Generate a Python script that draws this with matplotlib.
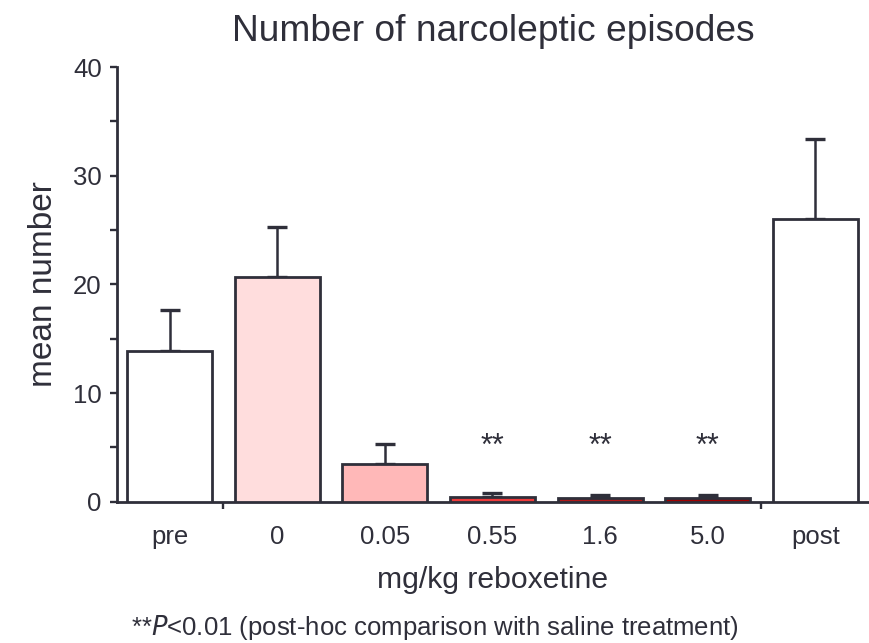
import matplotlib
matplotlib.use("Agg")
import matplotlib.pyplot as plt
import numpy as np

categories = ["pre", "0", "0.05", "0.55", "1.6", "5.0", "post"]
means = [13.9, 20.7, 3.5, 0.45, 0.35, 0.35, 26.0]
errors = [3.7, 4.6, 1.8, 0.35, 0.25, 0.25, 7.4]
colors = ["#ffffff", "#ffdddd", "#ffb8b8", "#ee3b3b", "#b01818", "#a00000", "#ffffff"]
signif = ["", "", "", "**", "**", "**", ""]

plt.rcParams['font.family'] = ['Liberation Sans', 'DejaVu Sans']
dark = "#2f2f3a"

fig = plt.figure(figsize=(8.69, 6.43), dpi=100)
ax = fig.add_axes([0.1346, 0.2198, 0.8654, 0.676])

x = np.arange(len(categories))
ax.bar(x, means, width=0.79, color=colors, edgecolor=dark, linewidth=2.0, zorder=3)
ax.errorbar(x, means, yerr=[np.zeros(len(errors)), errors], fmt='none',
            ecolor=dark, elinewidth=1.8, capsize=7, capthick=2.4, zorder=2)

for xi, s in zip(x, signif):
    if s:
        ax.text(xi, 4.3, s, ha='center', va='baseline', fontsize=22, color=dark)

ax.set_xlim(-0.49, 6.5)
ax.set_ylim(0, 40)
ax.set_yticks([0, 10, 20, 30, 40])
ax.set_yticks([5, 15, 25, 35], minor=True)
ax.set_xticks(x)
ax.set_xticklabels(categories)
ax.set_xticks([0.5, 5.5], minor=True)
ax.tick_params(axis='x', which='major', length=0, pad=17, labelsize=18.5, colors=dark)
ax.tick_params(axis='x', which='minor', length=5, width=1.7, color=dark, direction='out')
ax.tick_params(axis='y', which='both', length=5, width=1.7, color=dark, pad=6,
               labelsize=18.5, labelcolor=dark)

for side in ['top', 'right']:
    ax.spines[side].set_visible(False)
for side in ['left', 'bottom']:
    ax.spines[side].set_color(dark)
    ax.spines[side].set_linewidth(2.0)

ax.set_ylabel("mean number", fontsize=24, color=dark, labelpad=10)
ax.set_xlabel("mg/kg reboxetine", fontsize=21.7, color=dark, labelpad=12)
ax.set_title("Number of narcoleptic episodes", fontsize=26.7, color=dark, pad=19)

fig.text(0.5, (643 - 628) / 643, r"**$\it{P}$<0.01 (post-hoc comparison with saline treatment)",
         ha='center', va='center', fontsize=18.5, color=dark)

fig.savefig("out.png", dpi=100)
